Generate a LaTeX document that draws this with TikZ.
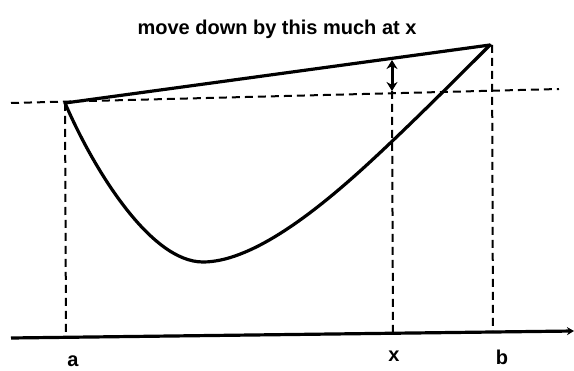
\documentclass[tikz,border=0pt]{standalone}
\usepackage{fontspec}
\setmainfont{Liberation Sans}
\usetikzlibrary{arrows.meta}
\begin{document}
\begin{tikzpicture}[x=1pt,y=-1pt,
  thickline/.style={line width=3.2pt,line cap=round,line join=round},
  guide/.style={line width=2pt,dash pattern=on 8pt off 5pt},
  lbl/.style={font=\bfseries\fontsize{20}{23}\selectfont,inner sep=0pt}]
\useasboundingbox (0,0) rectangle (574,371);
\fill[white] (0,0) rectangle (574,371);
% key points
\coordinate (A) at (65,103);
\coordinate (B) at (490,45);
\coordinate (M) at (203,262);
\coordinate (Q) at (350,180);
\coordinate (Xtop) at (392,60);
\coordinate (Xmid) at (392,91);
\coordinate (Xbot) at (393,333);
\coordinate (Abot) at (66,334);
\coordinate (Btop) at (492,45);
\coordinate (Bbot) at (493,332);
\coordinate (HL) at (11,103);
\coordinate (HR) at (559,89);
\coordinate (AxL) at (11,338);
\coordinate (AxR) at (574,331);
% dashed guides
\draw[guide] (HL) -- (HR);
\draw[guide] (A) -- (Abot);
\draw[guide] (Xmid) -- (Xbot);
\draw[guide] (Btop) -- (Bbot);
% chord
\draw[thickline] (A) -- (B);
% curve
\draw[thickline] (A) .. controls (93,168) and (150,262) .. (M)
  .. controls (250,262) and (310,215) .. (Q)
  .. controls (390,145) and (450,85) .. (B);
% double arrow
\draw[line width=3pt,{Stealth[length=9pt,width=11pt]}-{Stealth[length=9pt,width=11pt]}] (Xtop) -- (Xmid);
% axis
\draw[line width=3.2pt,-{Stealth[length=7pt,width=8pt]}] (AxL) -- (AxR);
% labels
\node[lbl] (title) at (277,29) {move down by this much at x};
\node[lbl] (la) at (73,361) {a};
\node[lbl] (lx) at (394,356) {x};
\node[lbl] (lb) at (502,357) {b};
\end{tikzpicture}
\end{document}
